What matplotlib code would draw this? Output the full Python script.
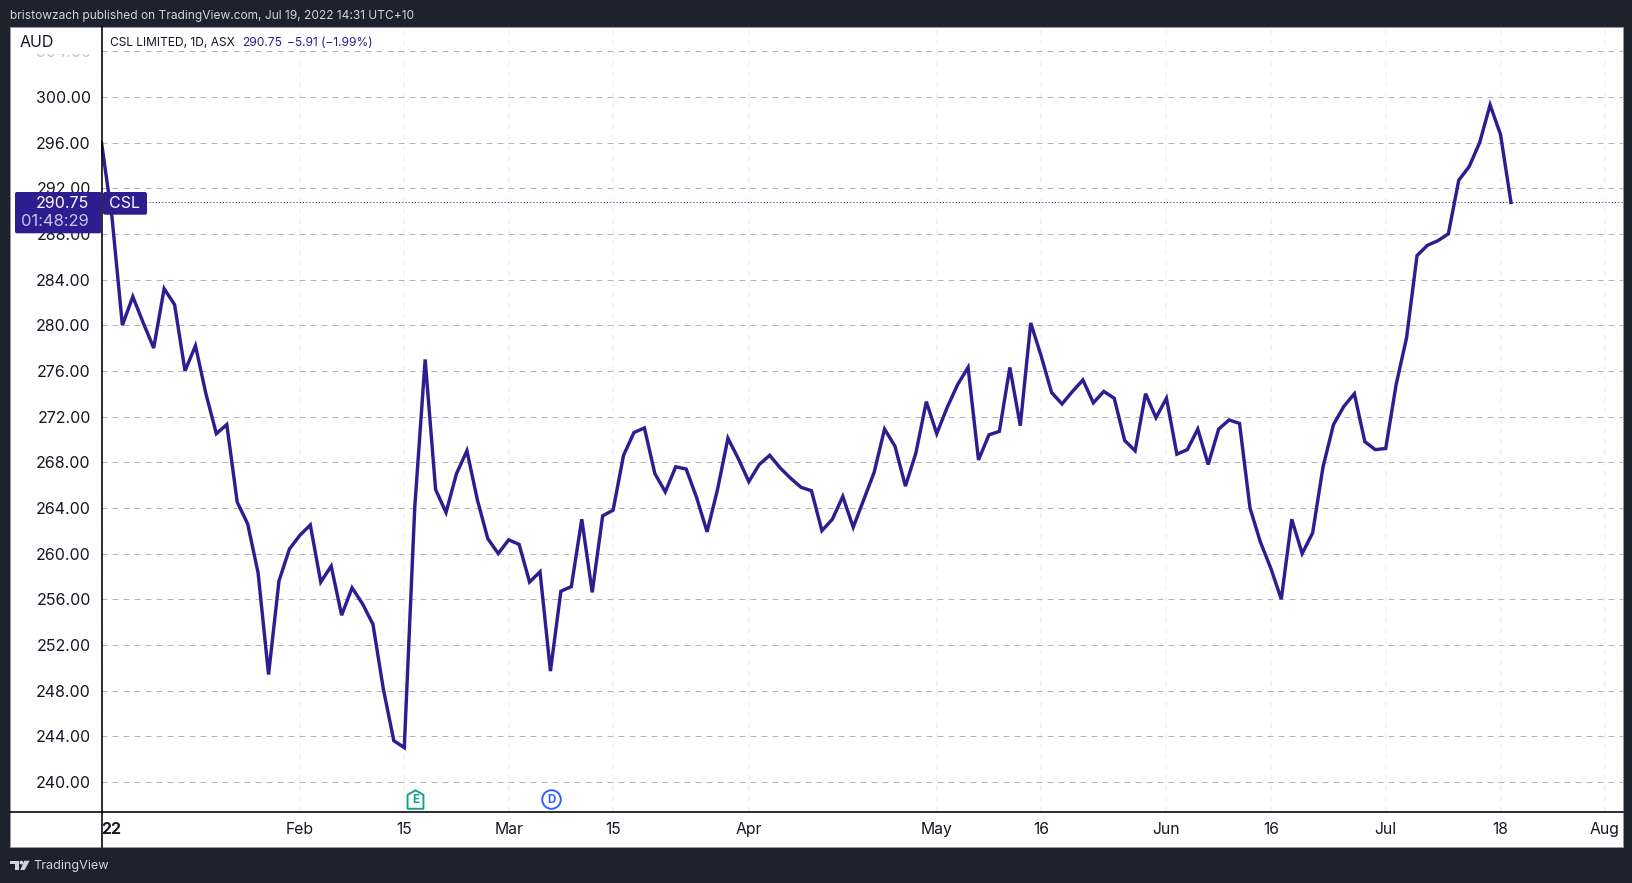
import matplotlib
matplotlib.use("Agg")
import matplotlib.pyplot as plt
from matplotlib.lines import Line2D
from matplotlib.patches import Circle, FancyBboxPatch, Polygon, Rectangle
from matplotlib.path import Path

# ============================================================
# DATA
# ============================================================

close = [
    296.0, 289.5, 280.0, 282.5, 280.2, 278.0, 283.2, 281.8, 276.0, 278.2,
    274.0, 270.5, 271.3, 264.5, 262.6, 258.3, 249.4, 257.6, 260.4, 261.6,
    262.5, 257.5, 258.9, 254.6, 257.0, 255.6, 253.8, 248.1, 243.6, 243.0,
    264.0, 277.0, 265.6, 263.6, 267.0, 269.0, 264.7, 261.3, 260.0, 261.2,
    260.8, 257.5, 258.4, 249.7, 256.7, 257.1, 263.0, 256.6, 263.3, 263.8,
    268.6, 270.6, 271.0, 267.0, 265.4, 267.6, 267.4, 264.9, 261.9, 265.6,
    270.1, 268.3, 266.3, 267.8, 268.6, 267.5, 266.6, 265.8, 265.5, 262.0,
    263.0, 265.0, 262.3, 264.7, 267.1, 270.9, 269.4, 265.9, 268.8, 273.3,
    270.5, 272.8, 274.8, 276.3, 268.2, 270.4, 270.7, 276.3, 271.2, 280.2,
    277.3, 274.1, 273.1, 274.2, 275.2, 273.2, 274.2, 273.6, 269.9, 269.0,
    274.0, 271.9, 273.6, 268.7, 269.1, 270.9, 267.8, 270.9, 271.7, 271.4,
    264.0, 261.0, 258.7, 256.0, 263.0, 260.0, 261.8, 267.6, 271.3, 272.9,
    274.0, 269.8, 269.1, 269.2, 274.8, 278.9, 286.1, 287.0, 287.4, 288.0,
    292.7, 293.9, 296.0, 299.3, 296.7, 290.75,
]
last_price = 290.75

price_ticks = [240, 244, 248, 252, 256, 260, 264, 268, 272, 276, 280, 284, 288, 292, 296, 300, 304]
time_ticks = [0, 19, 29, 39, 49, 62, 80, 90, 102, 112, 123, 134, 144]
time_labels = ["22", "Feb", "15", "Mar", "15", "Apr", "May", "16", "Jun", "16", "Jul", "18", "Aug"]

earnings_idx = 30
dividend_idx = 43
event_level = 238.5

# ============================================================
# STYLE
# ============================================================

W, H = 1633, 883
DARK = "#1e222d"
INK = "#131722"
LINE = "#2e1c91"
PX = 0.72  # one pixel in points at dpi 100

plt.rcParams["font.family"] = ["Inter", "DejaVu Sans"]


def fx(x):
    return x / W


def fy(y):
    return 1 - y / H


def box(x0, y0, x1, y1, color, zorder=5):
    return FancyBboxPatch(
        (x0 + 2, H - y1 + 2), x1 - x0 - 4, y1 - y0 - 4,
        boxstyle="round,pad=2,rounding_size=2",
        facecolor=color, edgecolor="none", transform=None, zorder=zorder,
    )


fig = plt.figure(figsize=(W / 100, H / 100), dpi=100, facecolor=DARK)

# white panel behind the chart
fig.add_artist(Rectangle(
    (10, H - 846.5), 1613, 819.5, transform=None,
    facecolor="white", edgecolor="#9598a1", linewidth=PX, zorder=-1,
))

ax = fig.add_axes([fx(101.5), fy(812), fx(1622.7 - 101.5), (812 - 27) / H], facecolor="none")

# ============================================================
# PRICE LINE
# ============================================================

ax.plot(
    range(len(close)), close,
    color=LINE, linewidth=3.4 * PX, solid_joinstyle="miter", zorder=3, clip_on=True,
)

ax.set_xlim(0, 145.7)
ax.set_ylim(237.36, 306.12)

ax.set_yticks(price_ticks, [f"{p:.2f}" for p in price_ticks])
ax.set_xticks(time_ticks, time_labels)

ax.grid(axis="y", color="#b2b5be", linewidth=PX, linestyle=(0, (6 / 1, 5 / 1)), zorder=1)
ax.grid(axis="x", color="#f0f3fa", linewidth=1.5 * PX, linestyle=(0, (3.5, 3.5)), zorder=1)
ax.set_axisbelow(True)

for side in ax.spines:
    ax.spines[side].set_visible(False)

ax.tick_params(axis="y", length=0, pad=7.8, labelsize=11.5, labelcolor=INK)
ax.tick_params(axis="x", length=0, pad=7.5, labelsize=11.3, labelcolor=INK)

ax.get_yticklabels()[-1].set_color("#c4c6cc")
first_label = ax.get_xticklabels()[0]
first_label.set_ha("left")
first_label.set_fontweight("bold")

# dotted last price line
ax.axhline(last_price, color=LINE, linewidth=PX, linestyle=(0, (1, 2.2)), zorder=2)

# ============================================================
# EARNINGS / DIVIDEND MARKERS
# ============================================================

house = Path([(-0.86, -1), (0.86, -1), (0.86, 0.5), (0, 1), (-0.86, 0.5), (-0.86, -1)], closed=True)
ax.plot(
    [earnings_idx + 0.07], [event_level], marker=house, markersize=13.3,
    markerfacecolor="white", markeredgecolor="#12a089", markeredgewidth=1.9 * PX, zorder=4,
)
ax.text(
    earnings_idx + 0.07, event_level, "E", color="#12a089", fontsize=8.3, fontweight="bold",
    ha="center", va="center_baseline", zorder=5,
)
ax.plot(
    [dividend_idx + 0.1], [event_level], marker="o", markersize=13.4,
    markerfacecolor="white", markeredgecolor="#2962ff", markeredgewidth=1.9 * PX, zorder=4,
)
ax.text(
    dividend_idx + 0.1, event_level, "D", color="#2962ff", fontsize=8.3, fontweight="bold",
    ha="center", va="center_baseline", zorder=5,
)

# ============================================================
# AXIS LINES AND TOP LEFT CORNER
# ============================================================

fig.add_artist(Line2D([fx(101.7), fx(101.7)], [fy(27), fy(846.5)], color="black", linewidth=1.6 * PX, zorder=4))
fig.add_artist(Line2D([fx(10), fx(1622.7)], [fy(812), fy(812)], color="black", linewidth=1.6 * PX, zorder=4))

# hides the top of the 304.00 label, only its lower edge shows
fig.add_artist(Rectangle((11, H - 54), 90, 26, transform=None, facecolor="white", edgecolor="none", zorder=4))

# ============================================================
# TEXTS
# ============================================================

fig.text(fx(10.5), fy(15.7), "bristowzach published on TradingView.com, Jul 19, 2022 14:31 UTC+10",
         color="#d1d4dc", fontsize=8.6, ha="left", va="center", zorder=6)
fig.text(fx(20), fy(42.5), "AUD", color=INK, fontsize=11.5, ha="left", va="center", zorder=6)
fig.text(fx(110), fy(42.7), "CSL LIMITED, 1D, ASX", color=INK, fontsize=8.6, ha="left", va="center", zorder=6)
fig.text(fx(241.7), fy(42.7), "290.75", color=LINE, fontsize=8.6, ha="left", va="center", zorder=6)
fig.text(fx(287.3), fy(42.7), "−5.91 (−1.99%)", color=LINE, fontsize=8.6, ha="left", va="center", zorder=6)

# last price tags
fig.add_artist(box(15, 192, 101.5, 233.3, LINE))
fig.add_artist(box(103, 192, 147, 214.7, LINE))
fig.text(fx(88.8), fy(203.3), "290.75", color="white", fontsize=11.5, ha="right", va="center", zorder=6)
fig.text(fx(88.8), fy(222), "01:48:29", color="#c9c4e6", fontsize=11.9, ha="right", va="center", zorder=6)
fig.text(fx(124.5), fy(203.3), "CSL", color="white", fontsize=11.5, ha="center", va="center", zorder=6)

# ============================================================
# TRADINGVIEW LOGO
# ============================================================

logo = "#d1d4dc"


def logo_poly(points):
    fig.add_artist(Polygon(
        [(x, H - y) for x, y in points], closed=True,
        transform=None, facecolor=logo, edgecolor="none", zorder=6,
    ))


logo_poly([(10, 860.7), (19, 860.7), (19, 870), (14.5, 870), (14.5, 864.3), (10, 864.3)])
logo_poly([(24.3, 860.7), (29.7, 860.7), (24.6, 870), (20.3, 870)])
fig.add_artist(Circle((21.4, H - 862.6), 1.9, transform=None, facecolor=logo, edgecolor="none", zorder=6))
fig.text(fx(33), fy(866), "TradingView", color=logo, fontsize=9.1, ha="left", va="center", zorder=6)

plt.savefig("out.png", dpi=100, facecolor=fig.get_facecolor())
plt.close()
